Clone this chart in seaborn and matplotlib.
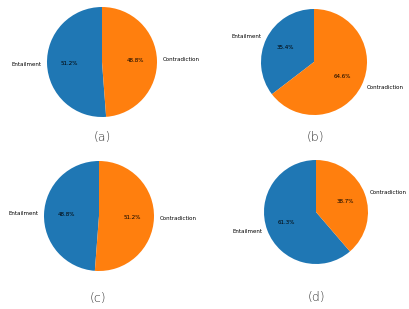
import matplotlib
matplotlib.use('Agg')
import matplotlib.pyplot as plt
import seaborn as sns

labels = ['Entailment', 'Contradiction']
vals_a = [51.2, 48.8]
vals_b = [35.4, 64.6]
vals_c = [48.8, 51.2]
vals_d = [61.3, 38.7]
captions = ['(a)', '(b)', '(c)', '(d)']

cores = sns.color_palette('tab10', 2)

W, H = 409, 309
fig = plt.figure(figsize=(W / 100, H / 100), dpi=100)

# centro (px), raio (px), posicao da legenda (px)
paineis = [
    (vals_a, (102, 62), 55, (102, 137)),
    (vals_b, (314, 62), 53, (315, 137)),
    (vals_c, (99, 216), 55, (98, 298)),
    (vals_d, (316, 212), 52, (316, 297)),
]

for (vals, (cx, cy), r, (tx, ty)), cap in zip(paineis, captions):
    s = r * 2.5
    ax = fig.add_axes([(cx - s / 2) / W, 1 - (cy + s / 2) / H, s / W, s / H])
    ax.pie(vals, labels=labels, colors=cores, startangle=90,
           autopct='%1.1f%%', textprops={'fontsize': 4})
    ax.set_aspect('equal')
    fig.text(tx / W, 1 - ty / H, cap, ha='center', va='center',
             fontsize=9, color='#333333', fontweight='light')

fig.savefig('out.png', dpi=100)
